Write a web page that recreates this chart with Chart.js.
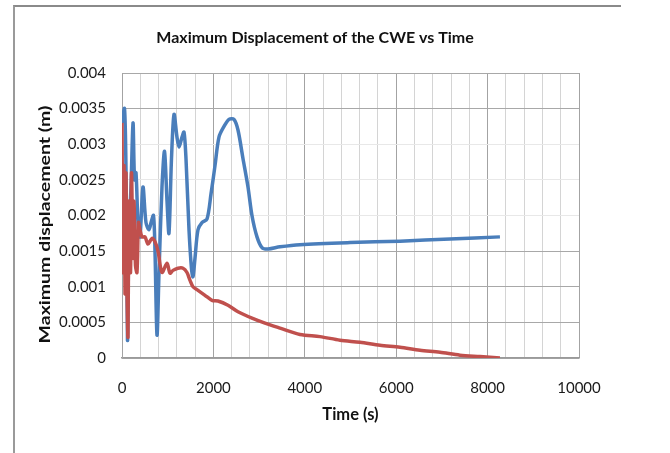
<!DOCTYPE html>
<html>
<head>
<meta charset="utf-8">
<script src="https://cdn.jsdelivr.net/npm/chart.js@4/dist/chart.umd.min.js"></script>
<style>
  html, body { margin: 0; padding: 0; background: #fff; }
  #wrap { position: relative; width: 670px; height: 453px; }
  #frame { position: absolute; left: 13px; top: 5px; width: 606px; height: 448px;
           border-top: 2px solid #8a8a8a; border-left: 2px solid #9a9a9a; pointer-events: none; }
  canvas { position: absolute; left: 0; top: 0; }
</style>
</head>
<body>
<div id="wrap">
  <canvas id="c" width="670" height="453"></canvas>
  <div id="frame"></div>
</div>
<script>
const chartTitle = "Maximum Displacement of the CWE vs Time";
const xAxisTitle = "Time (s)";
const yAxisTitle = "Maximum displacement (m)";

const blueTime = [0,55,88,120,153,197,241,274,306,350,394,459,525,591,635,689,722,766,810,875,930,985,1028,1083,1138,1203,1247,1313,1357,1400,1466,1521,1553,1597,1663,1750,1860,1947,2035,2122,2232,2341,2450,2538,2647,2757,2844,2954,3063,3195,3457,3895,4990,6083,7177,8270];
const blueDisp = [0.0033,0.0035,0.0026,0.00025,0.0018,0.0024,0.0033,0.0025,0.0026,0.0019,0.0017,0.0024,0.0019,0.0018,0.0019,0.0020,0.0015,0.00032,0.0012,0.0024,0.0029,0.0022,0.00175,0.0028,0.00342,0.0031,0.00296,0.0031,0.00317,0.0028,0.0018,0.00125,0.00114,0.0014,0.0018,0.0019,0.00195,0.0023,0.0027,0.0031,0.00325,0.00335,0.00335,0.0032,0.0028,0.0024,0.0020,0.0017,0.00155,0.00153,0.00156,0.00159,0.00162,0.00164,0.00167,0.0017];

const redTime = [0,22,44,66,88,109,131,153,186,208,241,263,295,328,361,394,438,503,569,656,722,788,875,985,1050,1116,1225,1335,1422,1488,1553,1663,1816,1969,2100,2319,2538,2844,3129,3457,3895,4332,4770,5207,5645,6083,6520,6958,7395,7833,8270];
const redDisp = [0.0033,0.0012,0.0027,0.0009,0.0026,0.0010,0.0003,0.0022,0.0012,0.0026,0.0014,0.0022,0.0013,0.0012,0.0019,0.0018,0.0017,0.0017,0.0016,0.00168,0.00163,0.0015,0.0012,0.00133,0.00119,0.00123,0.00126,0.00126,0.0012,0.00109,0.0010,0.00095,0.00088,0.00081,0.0008,0.00074,0.00065,0.00056,0.00049,0.00042,0.00033,0.0003,0.00025,0.00022,0.00018,0.00015,0.00011,0.00008,0.00004,0.00002,0];

const xMin = 0, xMax = 10000, xStep = 400, xLabelEvery = 2000;
const yMin = 0, yMax = 0.004, yStep = 0.0005;
const yLightLines = [0.002, 0.0025, 0.003];

const FONT = "Lato, 'Open Sans', 'Liberation Sans', sans-serif";

function toPoints(xs, ys) { return xs.map((x, i) => ({ x: x, y: ys[i] })); }

const titlesPlugin = {
  id: 'titles',
  afterDraw(chart) {
    const ctx = chart.ctx;
    const a = chart.chartArea;
    ctx.save();
    ctx.fillStyle = '#111';
    ctx.textAlign = 'center';
    ctx.textBaseline = 'middle';
    ctx.font = "bold 16px " + FONT;
    ctx.fillText(chartTitle, 315, 38);
    ctx.restore();

    ctx.save();
    ctx.fillStyle = '#111';
    ctx.textAlign = 'center';
    ctx.textBaseline = 'middle';
    ctx.font = "bold 15px " + FONT;
    ctx.translate(45, (a.top + a.bottom) / 2 + 9);
    ctx.rotate(-Math.PI / 2);
    ctx.scale(1.3, 1);
    ctx.fillText(yAxisTitle, 0, 0);
    ctx.restore();
  }
};

new Chart(document.getElementById('c'), {
  type: 'line',
  data: {
    datasets: [
      { label: 'Series 2', data: toPoints(redTime, redDisp), borderColor: '#c0504d', borderWidth: 3.5,
        pointRadius: 0, tension: 0.3, fill: false, order: 0 },
      { label: 'Series 1', data: toPoints(blueTime, blueDisp), borderColor: '#4a7ebb', borderWidth: 3.5,
        pointRadius: 0, tension: 0.3, fill: false, order: 1 }
    ]
  },
  options: {
    responsive: false,
    animation: false,
    devicePixelRatio: 1,
    layout: { padding: { left: 36, right: 91, top: 73, bottom: 28 } },
    plugins: { legend: { display: false }, title: { display: false }, tooltip: { enabled: false } },
    scales: {
      x: {
        type: 'linear', min: xMin, max: xMax,
        afterFit(s) { s.height = 67; },
        ticks: {
          stepSize: xStep, autoSkip: false, maxRotation: 0, padding: 21,
          color: '#1a1a1a', font: { family: FONT, size: 15 },
          callback: v => (Math.round(v) % xLabelEvery === 0 ? String(Math.round(v)) : '')
        },
        grid: {
          drawTicks: false,
          color: c => (Math.round(c.tick.value) % xLabelEvery === 0 ? '#a3a3a3' : '#d4d4d4'),
          lineWidth: 1
        },
        border: { display: true, color: '#9a9a9a', width: 1.5 },
        title: { display: true, text: xAxisTitle, color: '#111', padding: 0,
                 font: { family: FONT, size: 16.5, weight: 'bold' } }
      },
      y: {
        type: 'linear', min: yMin, max: yMax,
        afterFit(s) { s.width = 86; },
        ticks: {
          stepSize: yStep, padding: 16, color: '#1a1a1a', font: { family: FONT, size: 15 },
          callback: v => String(+v.toFixed(4))
        },
        grid: {
          drawTicks: false,
          color: c => (yLightLines.some(l => Math.abs(l - c.tick.value) < 1e-7) ? '#e8e8e8' : '#a8a8a8'),
          lineWidth: 1
        },
        border: { display: true, color: '#a3a3a3', width: 1 },
        title: { display: false, text: yAxisTitle }
      }
    }
  },
  plugins: [titlesPlugin]
});
</script>
</body>
</html>
